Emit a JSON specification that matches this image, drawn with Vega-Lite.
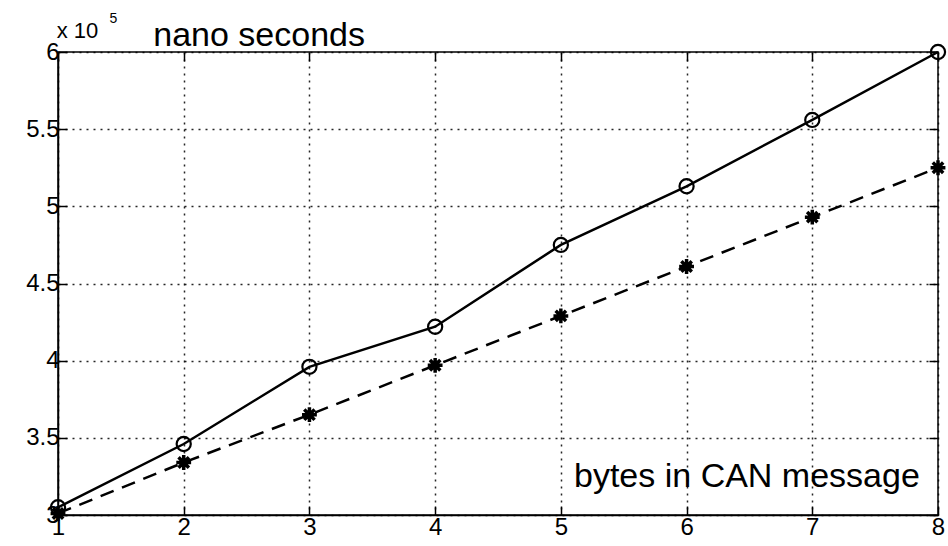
{
  "$schema": "https://vega.github.io/schema/vega-lite/v6.json",
  "width": 880,
  "height": 463,
  "autosize": "none",
  "padding": {"left": 58, "top": 52, "right": 10, "bottom": 31},
  "background": "white",
  "config": {
    "view": {"stroke": "black", "strokeWidth": 1.5},
    "font": "Liberation Sans",
    "axis": {
      "domainColor": "black", "domainWidth": 1.5,
      "tickColor": "black", "tickSize": -9, "tickWidth": 1.5,
      "labelColor": "black", "labelFontSize": 24, "labelFont": "Liberation Sans",
      "labelFlush": false, "labelOverlap": false,
      "gridColor": "black", "gridDash": [2, 5], "gridWidth": 1.5, "gridOpacity": 0.85,
      "title": null
    }
  },
  "datasets": {
    "series": [
      {"bytes": 1, "ns": 3.05, "series": "circle"},
      {"bytes": 2, "ns": 3.46, "series": "circle"},
      {"bytes": 3, "ns": 3.96, "series": "circle"},
      {"bytes": 4, "ns": 4.22, "series": "circle"},
      {"bytes": 5, "ns": 4.75, "series": "circle"},
      {"bytes": 6, "ns": 5.13, "series": "circle"},
      {"bytes": 7, "ns": 5.56, "series": "circle"},
      {"bytes": 8, "ns": 6.0, "series": "circle"},
      {"bytes": 1, "ns": 3.01, "series": "star"},
      {"bytes": 2, "ns": 3.34, "series": "star"},
      {"bytes": 3, "ns": 3.65, "series": "star"},
      {"bytes": 4, "ns": 3.97, "series": "star"},
      {"bytes": 5, "ns": 4.29, "series": "star"},
      {"bytes": 6, "ns": 4.61, "series": "star"},
      {"bytes": 7, "ns": 4.93, "series": "star"},
      {"bytes": 8, "ns": 5.25, "series": "star"}
    ],
    "notes": [
      {"bytes": 2.6, "ns": 6.04, "text": "nano seconds"},
      {"bytes": 6.48, "ns": 3.18, "text": "bytes in CAN message"}
    ]
  },
  "layer": [
    {
      "layer": [
        {
          "data": {"name": "series"},
          "transform": [{"filter": "datum.series === 'circle'"}],
          "mark": {"type": "line", "color": "black", "strokeWidth": 2.5},
          "encoding": {
            "x": {"field": "bytes", "type": "quantitative", "scale": {"domain": [1, 8], "nice": false},
                  "axis": {"values": [1, 2, 3, 4, 5, 6, 7, 8], "format": "d", "grid": true, "labelPadding": 9}},
            "y": {"field": "ns", "type": "quantitative", "scale": {"domain": [3, 6], "nice": false, "zero": false},
                  "axis": {"values": [3, 3.5, 4, 4.5, 5, 5.5, 6], "format": ".1~f", "grid": true, "labelPadding": 8}}
          }
        },
        {
          "data": {"name": "series"},
          "transform": [{"filter": "datum.series === 'star'"}],
          "mark": {"type": "line", "color": "black", "strokeWidth": 2.5, "strokeDash": [14, 9]},
          "encoding": {
            "x": {"field": "bytes", "type": "quantitative"},
            "y": {"field": "ns", "type": "quantitative"}
          }
        },
        {
          "data": {"name": "series"},
          "transform": [{"filter": "datum.series === 'circle'"}],
          "mark": {"type": "point", "shape": "circle", "filled": false, "stroke": "black", "strokeWidth": 2.2, "size": 200, "opacity": 1},
          "encoding": {
            "x": {"field": "bytes", "type": "quantitative"},
            "y": {"field": "ns", "type": "quantitative"}
          }
        },
        {
          "data": {"name": "series"},
          "transform": [{"filter": "datum.series === 'star'"}],
          "mark": {"type": "point", "shape": "M-1,0L1,0M0,-1L0,1M-0.7,-0.7L0.7,0.7M-0.7,0.7L0.7,-0.7", "filled": false, "stroke": "black", "strokeWidth": 3.5, "size": 220, "opacity": 1},
          "encoding": {
            "x": {"field": "bytes", "type": "quantitative"},
            "y": {"field": "ns", "type": "quantitative"}
          }
        },
        {
          "data": {"name": "notes"},
          "mark": {"type": "text", "fontSize": 34, "color": "black", "align": "center", "baseline": "alphabetic"},
          "encoding": {
            "x": {"field": "bytes", "type": "quantitative"},
            "y": {"field": "ns", "type": "quantitative"},
            "text": {"field": "text"}
          }
        },
        {
          "data": {"values": [{"bytes": 0.99, "ns": 6.09, "text": "x 10"}]},
          "mark": {"type": "text", "fontSize": 22, "color": "black", "align": "left", "baseline": "alphabetic"},
          "encoding": {
            "x": {"field": "bytes", "type": "quantitative"},
            "y": {"field": "ns", "type": "quantitative"},
            "text": {"field": "text"}
          }
        },
        {
          "data": {"values": [{"bytes": 1.41, "ns": 6.19, "text": "5"}]},
          "mark": {"type": "text", "fontSize": 14, "color": "black", "align": "left", "baseline": "alphabetic"},
          "encoding": {
            "x": {"field": "bytes", "type": "quantitative"},
            "y": {"field": "ns", "type": "quantitative"},
            "text": {"field": "text"}
          }
        }
      ]
    },
    {
      "data": {"name": "series"},
      "mark": {"type": "point", "opacity": 0},
      "encoding": {
        "x": {"field": "bytes", "type": "quantitative",
              "axis": {"orient": "top", "values": [1, 2, 3, 4, 5, 6, 7, 8], "labels": false, "domain": false, "grid": false}},
        "y": {"field": "ns", "type": "quantitative",
              "axis": {"orient": "right", "values": [3, 3.5, 4, 4.5, 5, 5.5, 6], "labels": false, "domain": false, "grid": false}}
      }
    }
  ],
  "resolve": {"axis": {"x": "independent", "y": "independent"}}
}
